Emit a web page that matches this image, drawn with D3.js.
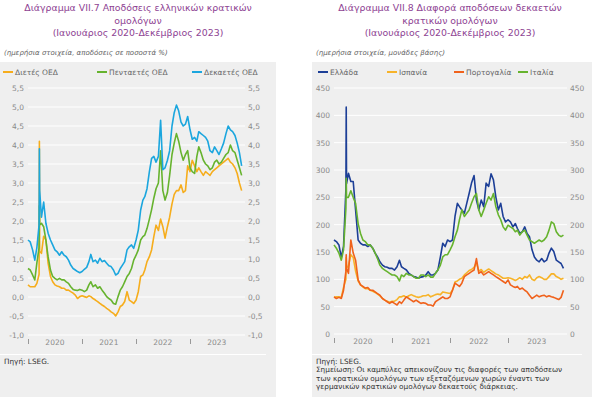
<!DOCTYPE html>
<html lang="el">
<head>
  <meta charset="UTF-8">
  <title>Διάγραμμα VII.7 - VII.8</title>
  <script src="https://cdn.jsdelivr.net/npm/d3@7"></script>
  <style>
    body { margin: 0; background: #fff; }
    svg text { font-family: "DejaVu Sans", sans-serif; }
  </style>
</head>
<body>
<svg id="chart" width="600" height="397"></svg>
<script>
// ημερομηνίες (1η και 16η κάθε μήνα, με δύο επιπλέον μέρες γύρω από την αιχμή του Μαρτίου 2020)
var dates = [
  "2020-01-01","2020-01-16","2020-02-01","2020-02-16","2020-03-01","2020-03-16","2020-03-18","2020-03-20",
  "2020-04-01","2020-04-16","2020-05-01","2020-05-16","2020-06-01","2020-06-16","2020-07-01","2020-07-16",
  "2020-08-01","2020-08-16","2020-09-01","2020-09-16","2020-10-01","2020-10-16","2020-11-01","2020-11-16",
  "2020-12-01","2020-12-16",
  "2021-01-01","2021-01-16","2021-02-01","2021-02-16","2021-03-01","2021-03-16","2021-04-01","2021-04-16",
  "2021-05-01","2021-05-16","2021-06-01","2021-06-16","2021-07-01","2021-07-16","2021-08-01","2021-08-16",
  "2021-09-01","2021-09-16","2021-10-01","2021-10-16","2021-11-01","2021-11-16","2021-12-01","2021-12-16",
  "2022-01-01","2022-01-16","2022-02-01","2022-02-16","2022-03-01","2022-03-16","2022-04-01","2022-04-16",
  "2022-05-01","2022-05-16","2022-06-01","2022-06-16","2022-07-01","2022-07-16","2022-08-01","2022-08-16",
  "2022-09-01","2022-09-16","2022-10-01","2022-10-16","2022-11-01","2022-11-16","2022-12-01","2022-12-16",
  "2023-01-01","2023-01-16","2023-02-01","2023-02-16","2023-03-01","2023-03-16","2023-04-01","2023-04-16",
  "2023-05-01","2023-05-16","2023-06-01","2023-06-16","2023-07-01","2023-07-16","2023-08-01","2023-08-16",
  "2023-09-01","2023-09-16","2023-10-01","2023-10-16","2023-11-01","2023-11-16","2023-12-01","2023-12-16"
];

// Διάγραμμα VII.7 (%)
var ggb2y = [0.32,0.27,0.27,0.27,0.36,0.6,4.1,1.2,
  1.15,1.6,1.5,0.89,0.54,0.4,0.32,0.29,0.27,0.23,0.23,0.18,0.18,0.14,0.1,0.05,-0.04,0.01,
  0.03,0.01,-0.01,0.03,0.01,-0.04,-0.08,-0.12,-0.17,-0.21,-0.25,-0.3,-0.34,-0.39,-0.43,-0.5,-0.39,-0.25,-0.21,-0.12,0.14,-0.08,-0.12,-0.17,
  -0.08,0.14,0.54,0.58,0.71,0.93,1.06,1.24,1.59,1.89,1.75,2.05,1.85,1.55,1.85,2.1,2.45,2.7,2.8,2.8,2.95,2.75,2.8,3.45,
  3.3,3.6,3.45,3.3,3.4,3.3,3.2,3.3,3.25,3.2,3.3,3.35,3.4,3.45,3.5,3.55,3.6,3.65,3.55,3.5,3.4,3.25,3.0,2.8];
var ggb5y = [0.75,0.71,0.58,0.45,0.9,1.3,2.4,1.9,
  1.94,1.85,1.5,1.06,0.71,0.54,0.49,0.45,0.49,0.45,0.45,0.4,0.36,0.27,0.2,0.18,0.17,0.2,
  0.18,0.14,0.18,0.32,0.4,0.27,0.32,0.23,0.27,0.18,0.1,0.01,-0.04,-0.08,-0.17,-0.19,0.01,0.18,0.27,0.4,0.54,0.62,0.75,0.97,
  1.1,1.24,1.5,1.59,1.63,1.8,2.05,2.3,2.6,2.85,3.0,3.85,2.8,2.55,2.75,3.2,3.75,4.05,4.3,4.1,3.8,3.6,3.75,3.85,
  3.4,3.3,3.25,3.7,3.95,3.8,3.6,3.5,3.45,3.35,3.4,3.55,3.6,3.5,3.55,3.65,3.75,3.8,4.0,3.85,3.8,3.6,3.4,3.2];
var ggb10y = [1.5,1.45,1.24,0.97,1.3,1.9,3.9,2.8,
  2.1,2.5,1.94,1.68,1.5,1.37,1.24,1.19,1.1,1.19,1.1,1.06,0.97,0.84,0.75,0.71,0.67,0.64,
  0.67,0.73,0.78,0.93,1.12,0.93,0.97,0.89,1.02,0.93,0.96,0.89,0.82,0.8,0.71,0.58,0.62,0.75,0.84,0.93,1.24,1.32,1.37,1.28,
  1.5,1.76,2.29,2.55,2.64,2.85,3.3,3.65,3.7,3.55,3.7,4.65,3.35,3.4,3.6,3.85,4.5,4.85,5.05,4.9,4.6,4.5,4.55,4.75,
  4.4,4.15,4.2,4.1,4.35,4.3,4.25,4.2,4.1,3.85,3.8,3.95,3.85,3.75,3.9,4.05,4.3,4.5,4.4,4.35,4.25,4.05,3.8,3.45];

// Διάγραμμα VII.8 (μονάδες βάσης)
var greece = [172,169,163,140,160,265,415,275,
  294,279,279,227,172,166,163,163,160,163,157,148,141,132,126,123,122,120,
  120,117,123,135,123,120,117,111,108,105,104,102,104,105,108,114,108,108,111,117,141,166,160,172,
  169,172,215,239,233,227,221,239,257,276,290,245,227,245,233,276,270,293,282,251,227,239,215,205,
  209,205,196,202,193,184,187,196,184,178,154,141,135,132,138,132,135,148,157,151,135,132,129,120];
var spain = [67,68,68,67,85,100,140,120,
  125,145,140,115,97,90,86,83,83,80,78,76,73,70,65,62,60,58,
  60,60,63,68,68,70,67,70,72,70,68,67,68,70,70,72,68,70,72,73,72,77,76,75,
  74,80,95,97,100,102,108,112,116,118,122,130,115,118,113,116,119,116,113,110,108,105,102,102,
  103,102,100,98,100,103,100,105,103,108,100,98,103,105,103,100,100,105,110,110,105,103,100,102];
var portugal = [68,65,67,65,80,115,145,120,
  111,172,148,135,99,90,87,84,85,80,80,77,74,71,65,62,59,56,
  59,56,53,59,56,62,68,65,62,59,62,59,56,57,56,53,53,51,59,62,65,68,65,65,
  68,80,93,90,87,93,105,108,111,114,117,138,111,114,108,111,114,111,108,105,102,99,96,93,
  99,90,87,85,87,82,84,80,77,71,65,68,71,68,70,71,68,70,68,67,65,63,67,80];
var italy = [163,157,148,135,154,230,285,250,
  250,262,250,239,202,184,172,169,163,163,157,148,138,126,120,117,114,111,
  108,108,105,97,108,105,111,108,108,105,102,102,108,108,105,108,104,104,111,117,126,141,145,145,
  154,163,178,190,209,227,215,221,227,239,251,257,227,215,227,239,251,245,257,233,218,209,196,190,
  199,196,193,187,190,181,187,190,181,172,169,166,169,172,169,172,178,190,205,202,187,181,178,181];

var years = ["2020", "2021", "2022", "2023"];
var yieldTicks = [-1, -0.5, 0, 0.5, 1, 1.5, 2, 2.5, 3, 3.5, 4, 4.5, 5, 5.5];
var spreadTicks = [0, 50, 100, 150, 200, 250, 300, 350, 400, 450];

var parse = d3.timeParse("%Y-%m-%d");
var time = dates.map(parse);

var svg = d3.select("#chart");
var titleColor = "#8e4393";
var labelColor = "#8a8a8a";
var bg = "#efefef";

function drawPanel(p) {
  var g = svg.append("g");

  // φόντο
  g.append("rect")
    .attr("x", p.bgX).attr("y", 62)
    .attr("width", p.bgW).attr("height", 335)
    .attr("fill", bg);

  // τίτλος
  g.append("text")
    .attr("x", p.titleX).attr("y", 11)
    .attr("text-anchor", "middle")
    .attr("fill", titleColor)
    .style("font-size", "9.4px")
    .selectAll("tspan")
    .data(p.title)
    .enter()
    .append("tspan")
    .attr("x", p.titleX)
    .attr("dy", function(d, i) { return i ? 12.5 : 0; })
    .text(function(d) { return d; });

  g.append("text")
    .attr("x", p.bgX + 4).attr("y", 55)
    .attr("fill", "#666")
    .style("font-size", "7px")
    .style("font-style", "italic")
    .text(p.subtitle);

  var x = d3.scaleTime()
    .domain([parse("2020-01-01"), parse("2024-01-01")])
    .range(p.xRange);
  var y = d3.scaleLinear()
    .domain(p.yDomain)
    .range([p.yBottom, 88]);

  // γραμμές πλέγματος
  g.append("g")
    .selectAll("line")
    .data(p.ticks)
    .enter()
    .append("line")
    .attr("x1", p.xRange[0]).attr("x2", p.xRange[1] + 1)
    .attr("y1", function(d) { return y(d); })
    .attr("y2", function(d) { return y(d); })
    .attr("stroke", "#fff")
    .attr("stroke-width", 1);

  // ετικέτες άξονα y (αριστερά και δεξιά)
  var fmt = p.fmt;
  g.append("g")
    .selectAll("text")
    .data(p.ticks)
    .enter()
    .append("text")
    .attr("x", p.xRange[0] - 4)
    .attr("y", function(d) { return y(d) + 3; })
    .attr("text-anchor", "end")
    .attr("fill", labelColor)
    .style("font-size", "7.5px")
    .text(fmt);
  g.append("g")
    .selectAll("text")
    .data(p.ticks)
    .enter()
    .append("text")
    .attr("x", p.xRange[1] + 4)
    .attr("y", function(d) { return y(d) + 3; })
    .attr("text-anchor", "start")
    .attr("fill", labelColor)
    .style("font-size", "7.5px")
    .text(fmt);

  // άξονας x: χαρακιές στην αρχή κάθε έτους, ετικέτα στο μέσο
  var yearStarts = years.map(function(yr) { return parse(yr + "-01-01"); });
  g.append("g")
    .selectAll("line")
    .data(yearStarts)
    .enter()
    .append("line")
    .attr("x1", function(d) { return Math.round(x(d)) + 0.5; })
    .attr("x2", function(d) { return Math.round(x(d)) + 0.5; })
    .attr("y1", p.yBottom + 4).attr("y2", p.yBottom + 9)
    .attr("stroke", "#999");
  g.append("g")
    .selectAll("text")
    .data(years)
    .enter()
    .append("text")
    .attr("x", function(d) { return x(parse(d + "-07-01")); })
    .attr("y", p.yBottom + 10)
    .attr("text-anchor", "middle")
    .attr("fill", labelColor)
    .style("font-size", "7.5px")
    .text(function(d) { return d; });

  // γραμμές σειρών
  var line = d3.line()
    .x(function(d, i) { return x(time[i]); })
    .y(function(d) { return y(d); });
  p.series.forEach(function(s) {
    g.append("path")
      .datum(s.values)
      .attr("d", line)
      .attr("fill", "none")
      .attr("stroke", s.color)
      .attr("stroke-width", 1.6)
      .attr("stroke-linejoin", "round");
  });

  // υπόμνημα
  var lg = g.append("g")
    .selectAll("g")
    .data(p.series)
    .enter()
    .append("g")
    .attr("transform", function(d, i) { return "translate(" + p.legendX[i] + ",72)"; });
  lg.append("line")
    .attr("x1", 0).attr("x2", 10)
    .attr("stroke", function(d) { return d.color; })
    .attr("stroke-width", 2);
  lg.append("text")
    .attr("x", 12).attr("y", 2.5)
    .attr("fill", "#666")
    .style("font-size", "7.5px")
    .text(function(d) { return d.name; });

  // διαχωριστική γραμμή και σημειώσεις
  g.append("line")
    .attr("x1", p.bgX).attr("x2", p.bgX + p.bgW - 10)
    .attr("y1", 354.5).attr("y2", 354.5)
    .attr("stroke", "#fff");
  g.append("g")
    .selectAll("text")
    .data(p.notes)
    .enter()
    .append("text")
    .attr("x", p.bgX + 4)
    .attr("y", function(d, i) { return 364 + i * 8.3; })
    .attr("fill", "#333")
    .style("font-size", "7.3px")
    .text(function(d) { return d; });
}

drawPanel({
  bgX: 0, bgW: 276,
  titleX: 138,
  title: ["Διάγραμμα VII.7 Αποδόσεις ελληνικών κρατικών", "ομολόγων", "(Ιανουάριος 2020-Δεκέμβριος 2023)"],
  subtitle: "(ημερήσια στοιχεία, αποδόσεις σε ποσοστά %)",
  xRange: [28, 244],
  yDomain: [-1, 5.5],
  yBottom: 335,
  ticks: yieldTicks,
  fmt: function(d) { return d3.format(".1f")(d).replace(".", ",").replace("−", "-"); },
  legendX: [3, 97, 192],
  series: [
    { name: "Διετές ΟΕΔ", color: "#f6ad1c", values: ggb2y },
    { name: "Πενταετές ΟΕΔ", color: "#66b32e", values: ggb5y },
    { name: "Δεκαετές ΟΕΔ", color: "#1ba6de", values: ggb10y }
  ],
  notes: ["Πηγή: LSEG."]
});

drawPanel({
  bgX: 312, bgW: 280,
  titleX: 450,
  title: ["Διάγραμμα VII.8 Διαφορά αποδόσεων δεκαετών", "κρατικών ομολόγων", "(Ιανουάριος 2020-Δεκέμβριος 2023)"],
  subtitle: "(ημερήσια στοιχεία, μονάδες βάσης)",
  xRange: [334, 566],
  yDomain: [0, 450],
  yBottom: 334,
  ticks: spreadTicks,
  fmt: function(d) { return String(d); },
  legendX: [318, 387, 454, 518],
  series: [
    { name: "Ελλάδα", color: "#1d3f97", values: greece },
    { name: "Ισπανία", color: "#f7b329", values: spain },
    { name: "Πορτογαλία", color: "#f0621c", values: portugal },
    { name: "Ιταλία", color: "#66b32e", values: italy }
  ],
  notes: ["Πηγή: LSEG.",
    "Σημείωση: Οι καμπύλες απεικονίζουν τις διαφορές των αποδόσεων",
    "των κρατικών ομολόγων των εξεταζόμενων χωρών έναντι των",
    "γερμανικών κρατικών ομολόγων δεκαετούς διάρκειας."]
});
</script>
</body>
</html>
